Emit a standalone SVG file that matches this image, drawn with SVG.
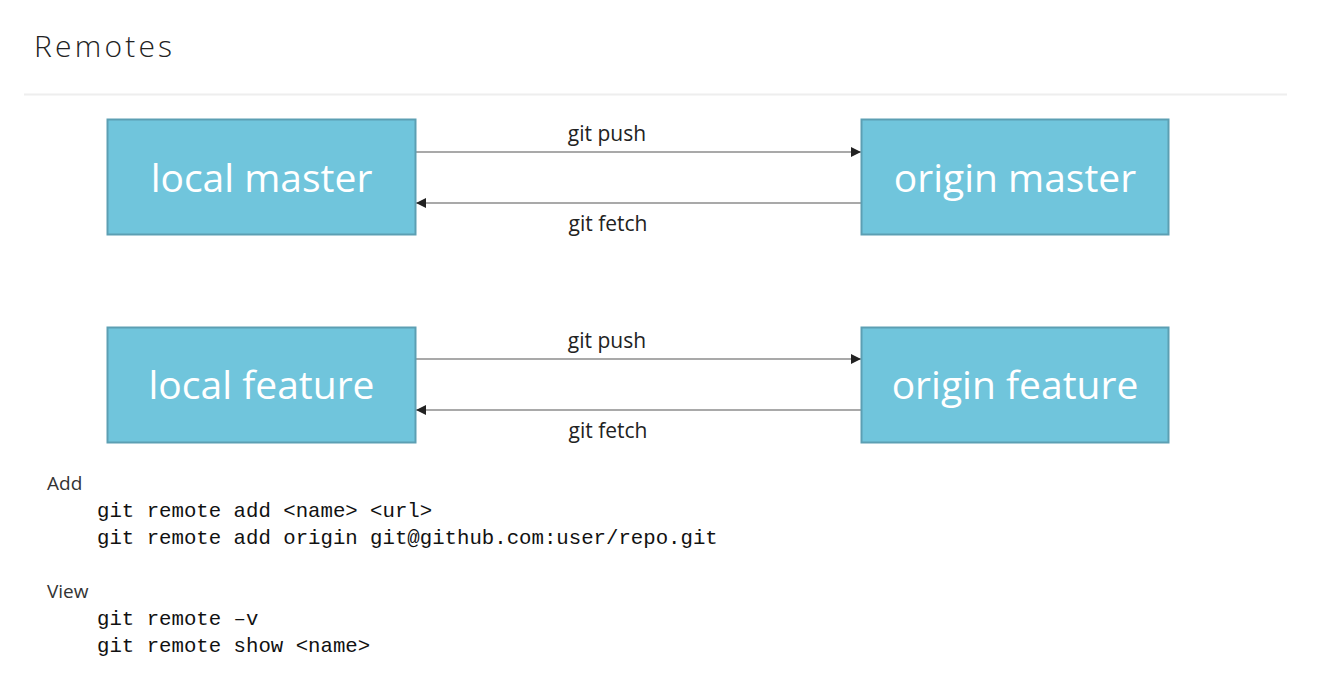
<svg xmlns="http://www.w3.org/2000/svg" width="1330" height="686" viewBox="0 0 1330 686">
<defs>
<style>
.box{fill:#70C5DC;stroke:#5C9FB3;stroke-width:2}
.bt{font-family:"Open Sans","Noto Sans",sans-serif;font-size:39px;fill:#ffffff;text-anchor:middle}
.lbl{font-family:"Open Sans","Noto Sans",sans-serif;font-size:21px;fill:#222;text-anchor:middle}
.conn{stroke:#555;stroke-width:1.2;fill:none}
.h{font-family:"Open Sans","Noto Sans",sans-serif;font-size:19px;fill:#333}
.code{font-family:"Liberation Mono","DejaVu Sans Mono",monospace;font-size:20.7px;fill:#111}
</style>
<marker id="ah" viewBox="0 0 10 10" refX="10" refY="5" markerWidth="11" markerHeight="10" markerUnits="userSpaceOnUse" orient="auto">
<path d="M0,0 L10,5 L0,10 z" fill="#222"/>
</marker>
</defs>
<rect width="1330" height="686" fill="#ffffff"/>
<text x="34" y="57" font-family="Open Sans, Noto Sans, sans-serif" font-size="30" font-weight="300" letter-spacing="3.2" fill="#222">Remotes</text>
<line x1="24" y1="94.5" x2="1287" y2="94.5" stroke="#EEEEEE" stroke-width="2"/>
<g id="connectors">
<line class="conn" x1="416" y1="152" x2="861" y2="152" marker-end="url(#ah)"/>
<line class="conn" x1="861" y1="203" x2="416" y2="203" marker-end="url(#ah)"/>
<line class="conn" x1="416" y1="359" x2="861" y2="359" marker-end="url(#ah)"/>
<line class="conn" x1="861" y1="410" x2="416" y2="410" marker-end="url(#ah)"/>
<text class="lbl" x="607" y="141">git push</text>
<text class="lbl" x="608" y="231">git fetch</text>
<text class="lbl" x="607" y="348">git push</text>
<text class="lbl" x="608" y="438">git fetch</text>
</g>
<g id="local-master">
<rect class="box" x="107.5" y="119.5" width="308" height="115"/>
<text class="bt" x="261.5" y="192">local master</text>
</g>
<g id="origin-master">
<rect class="box" x="861.5" y="119.5" width="307" height="115"/>
<text class="bt" x="1015" y="192">origin master</text>
</g>
<g id="local-feature">
<rect class="box" x="107.5" y="327.5" width="308" height="115"/>
<text class="bt" x="261.5" y="399">local feature</text>
</g>
<g id="origin-feature">
<rect class="box" x="861.5" y="327.5" width="307" height="115"/>
<text class="bt" x="1015" y="399">origin feature</text>
</g>
<g id="notes">
<text class="h" x="47" y="490">Add</text>
<text class="code" x="97" y="517">git remote add &lt;name&gt; &lt;url&gt;</text>
<text class="code" x="97" y="544">git remote add origin git@github.com:user/repo.git</text>
<text class="h" x="47" y="598">View</text>
<text class="code" x="97" y="625">git remote –v</text>
<text class="code" x="97" y="652">git remote show &lt;name&gt;</text>
</g>
</svg>
